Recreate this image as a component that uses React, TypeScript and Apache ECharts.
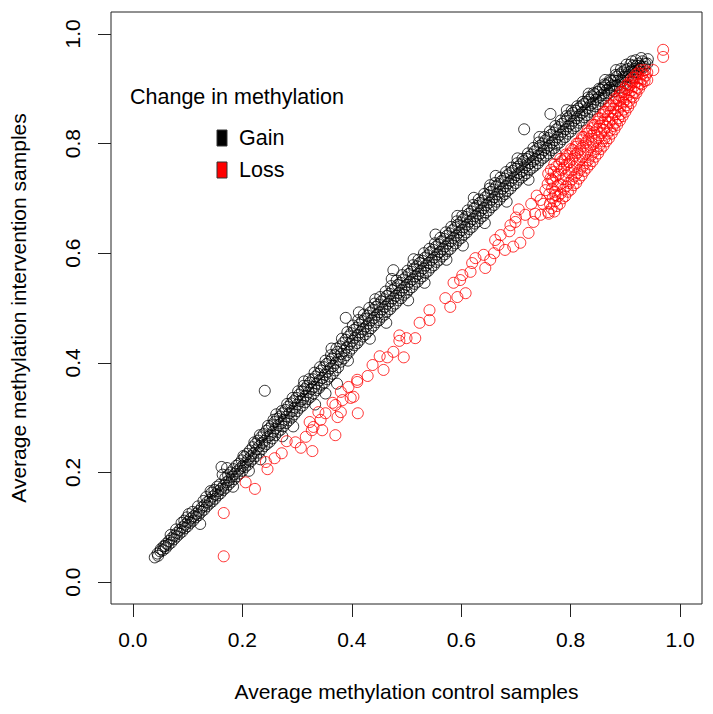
import React, { useEffect, useRef } from "react";
import * as echarts from "echarts";

const xTicks = [0, 0.2, 0.4, 0.6, 0.8, 1.0];
const yTicks = [0, 0.2, 0.4, 0.6, 0.8, 1.0];
const xTitle = "Average methylation control samples";
const yTitle = "Average methylation intervention samples";
const legendTitle = "Change in methylation";
const seriesNames = ["Gain", "Loss"];
const seriesColors = ["#000000", "#ff0000"];

const gainPoints: number[][] = [
  [0.040,0.045],[0.045,0.052],[0.046,0.048],[0.050,0.056],[0.051,0.060],[0.055,0.058],[0.056,0.065],[0.060,0.062],[0.061,0.070],[0.059,0.066],
  [0.065,0.068],[0.066,0.075],[0.070,0.072],[0.071,0.080],[0.069,0.086],[0.075,0.078],[0.076,0.085],[0.080,0.083],[0.081,0.090],[0.079,0.096],
  [0.085,0.088],[0.086,0.095],[0.090,0.092],[0.091,0.100],[0.089,0.108],[0.095,0.098],[0.096,0.105],[0.094,0.112],[0.100,0.102],[0.101,0.110],
  [0.099,0.118],[0.102,0.124],[0.105,0.108],[0.106,0.116],[0.110,0.112],[0.111,0.120],[0.109,0.128],[0.115,0.118],[0.116,0.125],[0.120,0.122],
  [0.121,0.130],[0.119,0.138],[0.125,0.128],[0.126,0.136],[0.130,0.132],[0.131,0.140],[0.129,0.148],[0.135,0.138],[0.136,0.146],[0.134,0.155],
  [0.140,0.143],[0.141,0.150],[0.145,0.147],[0.146,0.156],[0.144,0.163],[0.150,0.152],[0.151,0.160],[0.149,0.168],[0.155,0.158],[0.156,0.166],
  [0.154,0.174],[0.160,0.162],[0.161,0.170],[0.159,0.178],[0.162,0.210],[0.165,0.168],[0.166,0.176],[0.164,0.196],[0.170,0.172],[0.171,0.182],
  [0.169,0.190],[0.172,0.208],[0.175,0.178],[0.176,0.186],[0.174,0.195],[0.180,0.183],[0.181,0.192],[0.179,0.200],[0.185,0.188],[0.186,0.197],
  [0.184,0.206],[0.190,0.193],[0.191,0.202],[0.189,0.212],[0.195,0.198],[0.196,0.207],[0.194,0.216],[0.200,0.203],[0.201,0.212],[0.199,0.222],
  [0.202,0.230],[0.205,0.210],[0.206,0.218],[0.204,0.228],[0.210,0.214],[0.211,0.224],[0.209,0.234],[0.215,0.220],[0.216,0.230],[0.214,0.240],
  [0.220,0.225],[0.221,0.235],[0.219,0.246],[0.222,0.255],[0.225,0.230],[0.226,0.242],[0.224,0.252],[0.230,0.236],[0.231,0.248],[0.229,0.258],
  [0.232,0.268],[0.235,0.242],[0.236,0.254],[0.234,0.264],[0.240,0.248],[0.241,0.258],[0.239,0.270],[0.241,0.349],[0.245,0.252],[0.246,0.264],
  [0.244,0.276],[0.247,0.285],[0.250,0.256],[0.251,0.268],[0.249,0.280],[0.255,0.262],[0.256,0.274],[0.254,0.286],[0.257,0.296],[0.260,0.268],
  [0.261,0.280],[0.259,0.292],[0.265,0.274],[0.266,0.286],[0.264,0.298],[0.270,0.278],[0.271,0.290],[0.269,0.302],[0.272,0.312],[0.275,0.284],
  [0.276,0.296],[0.274,0.308],[0.280,0.290],[0.281,0.302],[0.279,0.314],[0.282,0.325],[0.285,0.295],[0.286,0.308],[0.284,0.320],[0.290,0.300],
  [0.291,0.312],[0.289,0.326],[0.292,0.336],[0.295,0.306],[0.296,0.318],[0.294,0.330],[0.300,0.312],[0.301,0.324],[0.299,0.336],[0.302,0.348],
  [0.305,0.318],[0.306,0.330],[0.304,0.342],[0.310,0.322],[0.311,0.334],[0.309,0.348],[0.312,0.358],[0.315,0.328],[0.316,0.340],[0.314,0.352],
  [0.320,0.334],[0.321,0.346],[0.319,0.358],[0.322,0.370],[0.325,0.338],[0.326,0.352],[0.324,0.364],[0.330,0.344],[0.331,0.356],[0.329,0.370],
  [0.332,0.382],[0.335,0.350],[0.336,0.362],[0.334,0.375],[0.340,0.354],[0.341,0.368],[0.339,0.380],[0.342,0.392],[0.345,0.360],[0.346,0.372],
  [0.344,0.386],[0.350,0.364],[0.351,0.378],[0.349,0.392],[0.352,0.404],[0.355,0.370],[0.356,0.384],[0.354,0.398],[0.360,0.375],[0.361,0.390],
  [0.359,0.402],[0.362,0.414],[0.365,0.380],[0.366,0.394],[0.364,0.408],[0.370,0.386],[0.371,0.400],[0.369,0.414],[0.372,0.426],[0.375,0.392],
  [0.376,0.406],[0.374,0.420],[0.380,0.402],[0.381,0.416],[0.379,0.430],[0.382,0.444],[0.389,0.482],[0.385,0.408],[0.386,0.422],[0.384,0.436],
  [0.390,0.414],[0.391,0.428],[0.389,0.442],[0.392,0.456],[0.395,0.420],[0.396,0.434],[0.394,0.448],[0.400,0.426],[0.401,0.440],[0.399,0.454],
  [0.402,0.468],[0.405,0.432],[0.406,0.446],[0.404,0.460],[0.410,0.436],[0.411,0.450],[0.409,0.464],[0.412,0.478],[0.415,0.442],[0.416,0.456],
  [0.414,0.470],[0.420,0.448],[0.421,0.462],[0.419,0.476],[0.422,0.488],[0.425,0.452],[0.426,0.466],[0.424,0.480],[0.430,0.458],[0.431,0.472],
  [0.429,0.486],[0.432,0.500],[0.435,0.463],[0.436,0.478],[0.434,0.492],[0.440,0.468],[0.441,0.482],[0.439,0.496],[0.442,0.508],[0.445,0.474],
  [0.446,0.488],[0.444,0.502],[0.450,0.478],[0.451,0.492],[0.449,0.506],[0.452,0.520],[0.455,0.484],[0.456,0.498],[0.454,0.512],[0.460,0.488],
  [0.461,0.502],[0.459,0.516],[0.462,0.530],[0.465,0.494],[0.466,0.508],[0.464,0.522],[0.470,0.498],[0.471,0.512],[0.469,0.526],[0.472,0.540],
  [0.475,0.504],[0.476,0.518],[0.474,0.532],[0.480,0.508],[0.481,0.522],[0.479,0.536],[0.482,0.550],[0.476,0.569],[0.485,0.514],[0.486,0.528],
  [0.484,0.542],[0.490,0.518],[0.491,0.532],[0.489,0.546],[0.492,0.560],[0.495,0.524],[0.496,0.538],[0.494,0.552],[0.500,0.528],[0.501,0.542],
  [0.499,0.556],[0.502,0.568],[0.505,0.534],[0.506,0.548],[0.504,0.562],[0.510,0.538],[0.511,0.552],[0.509,0.566],[0.512,0.578],[0.515,0.544],
  [0.516,0.558],[0.514,0.572],[0.520,0.548],[0.521,0.562],[0.519,0.576],[0.522,0.588],[0.525,0.554],[0.526,0.568],[0.524,0.582],[0.530,0.558],
  [0.531,0.572],[0.529,0.586],[0.532,0.600],[0.535,0.564],[0.536,0.578],[0.534,0.592],[0.540,0.568],[0.541,0.582],[0.539,0.596],[0.542,0.608],
  [0.545,0.574],[0.546,0.588],[0.544,0.602],[0.550,0.578],[0.551,0.592],[0.549,0.606],[0.552,0.618],[0.555,0.584],[0.556,0.598],[0.554,0.612],
  [0.560,0.588],[0.561,0.602],[0.559,0.616],[0.562,0.628],[0.565,0.594],[0.566,0.608],[0.564,0.622],[0.570,0.598],[0.571,0.612],[0.569,0.626],
  [0.572,0.638],[0.575,0.604],[0.576,0.618],[0.574,0.632],[0.580,0.608],[0.581,0.622],[0.579,0.636],[0.582,0.648],[0.585,0.614],[0.586,0.628],
  [0.584,0.642],[0.590,0.618],[0.591,0.632],[0.589,0.646],[0.592,0.658],[0.595,0.624],[0.596,0.638],[0.594,0.652],[0.600,0.628],[0.601,0.642],
  [0.599,0.656],[0.602,0.668],[0.605,0.634],[0.606,0.648],[0.604,0.662],[0.610,0.638],[0.611,0.652],[0.609,0.666],[0.612,0.678],[0.615,0.644],
  [0.616,0.658],[0.614,0.672],[0.620,0.648],[0.621,0.662],[0.619,0.676],[0.622,0.688],[0.625,0.654],[0.626,0.668],[0.624,0.682],[0.630,0.658],
  [0.631,0.672],[0.629,0.686],[0.632,0.698],[0.635,0.664],[0.636,0.678],[0.634,0.692],[0.640,0.668],[0.641,0.682],[0.639,0.696],[0.642,0.708],
  [0.645,0.674],[0.646,0.688],[0.644,0.702],[0.650,0.678],[0.651,0.692],[0.649,0.706],[0.652,0.718],[0.653,0.724],[0.655,0.684],[0.656,0.698],
  [0.654,0.712],[0.660,0.688],[0.661,0.702],[0.659,0.716],[0.662,0.728],[0.665,0.694],[0.666,0.708],[0.664,0.722],[0.670,0.698],[0.671,0.712],
  [0.669,0.726],[0.672,0.738],[0.675,0.704],[0.676,0.718],[0.674,0.732],[0.680,0.708],[0.681,0.722],[0.679,0.736],[0.682,0.748],[0.685,0.714],
  [0.686,0.728],[0.684,0.742],[0.690,0.718],[0.691,0.732],[0.689,0.746],[0.692,0.756],[0.695,0.724],[0.696,0.738],[0.694,0.750],[0.700,0.728],
  [0.701,0.742],[0.699,0.754],[0.702,0.764],[0.705,0.734],[0.706,0.746],[0.704,0.758],[0.710,0.738],[0.711,0.750],[0.709,0.762],[0.712,0.772],
  [0.715,0.742],[0.716,0.756],[0.714,0.768],[0.715,0.826],[0.720,0.746],[0.721,0.760],[0.719,0.772],[0.722,0.782],[0.725,0.752],[0.726,0.764],
  [0.724,0.776],[0.730,0.756],[0.731,0.768],[0.729,0.780],[0.732,0.792],[0.735,0.760],[0.736,0.772],[0.734,0.786],[0.740,0.764],[0.741,0.778],
  [0.739,0.790],[0.742,0.802],[0.745,0.770],[0.746,0.782],[0.744,0.796],[0.750,0.774],[0.751,0.788],[0.749,0.800],[0.752,0.812],[0.755,0.778],
  [0.756,0.792],[0.754,0.806],[0.760,0.782],[0.761,0.796],[0.759,0.810],[0.762,0.822],[0.763,0.854],[0.765,0.788],[0.766,0.802],[0.764,0.816],
  [0.770,0.792],[0.771,0.806],[0.769,0.820],[0.772,0.832],[0.775,0.798],[0.776,0.812],[0.774,0.826],[0.780,0.802],[0.781,0.816],[0.779,0.830],
  [0.782,0.842],[0.785,0.808],[0.786,0.822],[0.784,0.836],[0.790,0.812],[0.791,0.826],[0.789,0.840],[0.792,0.850],[0.795,0.818],[0.796,0.832],
  [0.794,0.846],[0.800,0.822],[0.801,0.836],[0.799,0.850],[0.802,0.860],[0.805,0.828],[0.806,0.842],[0.804,0.856],[0.810,0.832],[0.811,0.846],
  [0.809,0.860],[0.812,0.868],[0.815,0.838],[0.816,0.852],[0.814,0.864],[0.820,0.842],[0.821,0.856],[0.819,0.868],[0.822,0.876],[0.825,0.848],
  [0.826,0.860],[0.824,0.872],[0.830,0.852],[0.831,0.864],[0.829,0.876],[0.832,0.884],[0.835,0.858],[0.836,0.870],[0.834,0.880],[0.840,0.862],
  [0.841,0.874],[0.839,0.886],[0.842,0.892],[0.845,0.868],[0.846,0.880],[0.844,0.890],[0.850,0.872],[0.851,0.884],[0.849,0.894],[0.852,0.900],
  [0.855,0.878],[0.856,0.888],[0.854,0.898],[0.860,0.882],[0.861,0.892],[0.859,0.902],[0.862,0.908],[0.865,0.888],[0.866,0.898],[0.864,0.906],
  [0.870,0.892],[0.871,0.902],[0.869,0.910],[0.872,0.916],[0.875,0.898],[0.876,0.906],[0.874,0.914],[0.880,0.895],[0.881,0.905],[0.879,0.915],
  [0.882,0.925],[0.885,0.906],[0.886,0.914],[0.884,0.922],[0.890,0.902],[0.891,0.914],[0.889,0.926],[0.892,0.936],[0.895,0.914],[0.896,0.922],
  [0.894,0.930],[0.900,0.910],[0.901,0.922],[0.899,0.934],[0.902,0.944],[0.905,0.922],[0.906,0.930],[0.904,0.936],[0.910,0.920],[0.911,0.932],
  [0.909,0.944],[0.912,0.950],[0.915,0.930],[0.916,0.936],[0.914,0.942],[0.920,0.930],[0.921,0.942],[0.919,0.952],[0.925,0.936],[0.926,0.942],
  [0.924,0.946],[0.930,0.940],[0.931,0.950],[0.929,0.956],[0.935,0.940],[0.936,0.946],[0.940,0.946],[0.941,0.954],
  [0.123,0.106],[0.142,0.166],[0.183,0.174],[0.212,0.203],[0.233,0.224],[0.262,0.306],[0.273,0.266],[0.293,0.284],[0.313,0.366],[0.333,0.324],
  [0.352,0.344],[0.363,0.426],[0.373,0.362],[0.393,0.404],[0.413,0.492],[0.433,0.444],[0.443,0.516],[0.463,0.473],[0.473,0.553],[0.503,0.514],
  [0.513,0.589],[0.533,0.546],[0.553,0.634],[0.573,0.588],[0.593,0.668],[0.603,0.614],[0.623,0.701],[0.643,0.655],[0.663,0.741],[0.683,0.694],
  [0.703,0.773],[0.723,0.734],[0.743,0.812],[0.773,0.781],[0.793,0.861],[0.833,0.891],[0.863,0.916],[0.883,0.934]
];

const lossPoints: number[][] = [
  [0.166,0.047],[0.166,0.126],[0.206,0.182],[0.223,0.170],[0.243,0.219],[0.246,0.206],[0.259,0.226],[0.272,0.235],[0.281,0.257],[0.297,0.255],
  [0.307,0.245],[0.316,0.265],[0.328,0.239],[0.327,0.277],[0.330,0.283],[0.323,0.292],[0.346,0.277],[0.339,0.310],[0.352,0.308],[0.343,0.296],
  [0.370,0.268],[0.374,0.301],[0.380,0.310],[0.365,0.327],[0.370,0.323],[0.383,0.332],[0.398,0.336],[0.411,0.308],[0.394,0.356],[0.410,0.365],
  [0.380,0.347],[0.403,0.338],[0.410,0.369],[0.429,0.376],[0.438,0.396],[0.451,0.412],[0.458,0.387],[0.465,0.410],[0.476,0.420],[0.495,0.410],
  [0.487,0.440],[0.487,0.450],[0.500,0.445],[0.516,0.445],[0.524,0.473],[0.542,0.478],[0.542,0.496],[0.571,0.518],[0.580,0.502],[0.593,0.520],
  [0.608,0.527],[0.586,0.546],[0.598,0.551],[0.602,0.560],[0.617,0.566],[0.620,0.582],[0.626,0.591],[0.644,0.573],[0.641,0.597],[0.680,0.606],
  [0.653,0.588],[0.660,0.600],[0.668,0.615],[0.662,0.624],[0.672,0.633],[0.688,0.640],[0.695,0.612],[0.690,0.651],[0.699,0.657],[0.700,0.665],
  [0.705,0.680],[0.708,0.619],[0.717,0.670],[0.723,0.637],[0.728,0.690],[0.732,0.657],[0.735,0.672],[0.738,0.705],[0.745,0.670],[0.745,0.697],
  [0.750,0.690],[0.754,0.715],[0.759,0.675],[0.766,0.734],[0.772,0.706],
  [0.760,0.672],[0.762,0.690],[0.761,0.708],[0.758,0.726],[0.759,0.745],[0.765,0.682],[0.767,0.700],[0.766,0.718],[0.763,0.736],[0.764,0.752],
  [0.770,0.676],[0.772,0.695],[0.771,0.712],[0.768,0.731],[0.769,0.748],[0.770,0.762],[0.775,0.686],[0.777,0.704],[0.776,0.723],[0.773,0.740],
  [0.774,0.758],[0.780,0.690],[0.782,0.709],[0.781,0.726],[0.778,0.744],[0.779,0.762],[0.781,0.772],[0.785,0.700],[0.787,0.716],[0.786,0.735],
  [0.783,0.752],[0.784,0.768],[0.790,0.704],[0.792,0.722],[0.791,0.741],[0.788,0.756],[0.789,0.772],[0.791,0.780],[0.795,0.712],[0.797,0.728],
  [0.796,0.747],[0.793,0.762],[0.794,0.778],[0.800,0.716],[0.802,0.734],[0.801,0.751],[0.798,0.766],[0.799,0.782],[0.801,0.790],[0.805,0.724],
  [0.807,0.740],[0.806,0.757],[0.803,0.772],[0.804,0.788],[0.810,0.728],[0.812,0.746],[0.811,0.763],[0.808,0.778],[0.809,0.794],[0.811,0.800],
  [0.815,0.736],[0.817,0.752],[0.816,0.769],[0.813,0.784],[0.814,0.800],[0.820,0.742],[0.822,0.758],[0.821,0.775],[0.818,0.790],[0.819,0.806],
  [0.821,0.812],[0.825,0.750],[0.827,0.764],[0.826,0.781],[0.823,0.796],[0.824,0.812],[0.830,0.756],[0.832,0.770],[0.831,0.787],[0.828,0.802],
  [0.829,0.818],[0.831,0.824],[0.835,0.762],[0.837,0.778],[0.836,0.793],[0.833,0.808],[0.834,0.822],[0.840,0.768],[0.842,0.784],[0.841,0.799],
  [0.838,0.814],[0.839,0.828],[0.841,0.834],[0.845,0.776],[0.847,0.790],[0.846,0.805],[0.843,0.820],[0.844,0.834],[0.850,0.782],[0.852,0.796],
  [0.851,0.811],[0.848,0.826],[0.849,0.840],[0.851,0.846],[0.855,0.790],[0.857,0.804],[0.856,0.819],[0.853,0.832],[0.854,0.846],[0.860,0.796],
  [0.862,0.810],[0.861,0.825],[0.858,0.838],[0.859,0.852],[0.861,0.858],[0.865,0.804],[0.867,0.818],[0.866,0.831],[0.863,0.844],[0.864,0.858],
  [0.870,0.810],[0.872,0.824],[0.871,0.839],[0.868,0.850],[0.869,0.864],[0.871,0.870],[0.875,0.818],[0.877,0.832],[0.876,0.845],[0.873,0.858],
  [0.874,0.870],[0.880,0.826],[0.882,0.838],[0.881,0.853],[0.878,0.864],[0.879,0.876],[0.881,0.882],[0.885,0.834],[0.887,0.846],[0.886,0.859],
  [0.883,0.870],[0.884,0.882],[0.890,0.842],[0.892,0.854],[0.891,0.867],[0.888,0.878],[0.889,0.888],[0.891,0.894],[0.895,0.850],[0.897,0.862],
  [0.896,0.875],[0.893,0.884],[0.894,0.894],[0.900,0.858],[0.902,0.870],[0.901,0.881],[0.898,0.890],[0.899,0.900],[0.901,0.906],[0.905,0.866],
  [0.907,0.878],[0.906,0.889],[0.903,0.898],[0.904,0.908],[0.910,0.874],[0.912,0.886],[0.911,0.897],[0.908,0.906],[0.909,0.914],[0.915,0.884],
  [0.917,0.894],[0.916,0.905],[0.913,0.912],[0.914,0.920],[0.920,0.892],[0.922,0.902],[0.921,0.913],[0.918,0.920],[0.919,0.926],[0.925,0.900],
  [0.927,0.910],[0.926,0.919],[0.923,0.928],[0.930,0.908],[0.932,0.918],[0.931,0.927],[0.928,0.934],[0.935,0.914],[0.937,0.924],[0.936,0.934],
  [0.940,0.916],[0.940,0.930],[0.951,0.934],[0.969,0.971],[0.969,0.958]
];

const FONT = '"Liberation Sans", Arial, Helvetica, sans-serif';

export default function App() {
  const ref = useRef<HTMLDivElement>(null);
  useEffect(() => {
    if (!ref.current) return;
    const chart = echarts.init(ref.current, undefined, { renderer: "svg" });
    const left = 110, top = 12, size = 592;
    const axisCommon = {
      type: "value",
      min: -0.04,
      max: 1.04,
      splitLine: { show: false },
      axisLine: { show: false, onZero: false },
      axisTick: {
        show: true,
        inside: false,
        length: 13,
        lineStyle: { color: "#222", width: 1 },
      },
      nameLocation: "middle",
      nameTextStyle: { fontFamily: FONT, fontSize: 21, color: "#000" },
    };
    chart.setOption({
      animation: false,
      backgroundColor: "#ffffff",
      grid: {
        left,
        top,
        width: size,
        height: size,
        show: true,
        borderColor: "#222",
        borderWidth: 1,
        backgroundColor: "transparent",
      },
      xAxis: {
        ...axisCommon,
        name: xTitle,
        nameGap: 77,
        axisTick: { ...axisCommon.axisTick, customValues: xTicks },
        axisLabel: {
          customValues: xTicks,
          formatter: (v: number) => v.toFixed(1),
          fontFamily: FONT,
          fontSize: 21,
          color: "#000",
          margin: 25,
        },
      },
      yAxis: {
        ...axisCommon,
        name: yTitle,
        nameGap: 82,
        axisTick: { ...axisCommon.axisTick, customValues: yTicks },
        axisLabel: {
          customValues: yTicks,
          formatter: (v: number) => v.toFixed(1),
          fontFamily: FONT,
          fontSize: 21,
          color: "#000",
          rotate: 90,
          margin: 28,
        },
      },
      series: [
        {
          name: seriesNames[0],
          type: "scatter",
          data: gainPoints,
          symbol: "circle",
          symbolSize: 11,
          itemStyle: { color: "rgba(0,0,0,0)", borderColor: seriesColors[0], borderWidth: 1 },
          emphasis: { disabled: true },
        },
        {
          name: seriesNames[1],
          type: "scatter",
          data: lossPoints,
          symbol: "circle",
          symbolSize: 11,
          itemStyle: { color: "rgba(0,0,0,0)", borderColor: seriesColors[1], borderWidth: 1 },
          emphasis: { disabled: true },
        },
      ],
      graphic: [
        {
          type: "text",
          left: 130,
          top: 86,
          style: { text: legendTitle, font: `21.5px ${FONT}`, fill: "#000" },
        },
        {
          type: "rect",
          shape: { x: 217, y: 130, width: 10, height: 16 },
          style: { fill: seriesColors[0], stroke: "#333", lineWidth: 1 },
        },
        {
          type: "text",
          left: 239,
          top: 127,
          style: { text: seriesNames[0], font: `21.5px ${FONT}`, fill: "#000" },
        },
        {
          type: "rect",
          shape: { x: 217, y: 162, width: 10, height: 16 },
          style: { fill: seriesColors[1], stroke: "#333", lineWidth: 1 },
        },
        {
          type: "text",
          left: 239,
          top: 159,
          style: { text: seriesNames[1], font: `21.5px ${FONT}`, fill: "#000" },
        },
      ],
    });
    return () => chart.dispose();
  }, []);
  return (
    <div
      ref={ref}
      style={{ position: "fixed", left: 0, top: 0, width: 713, height: 714, background: "#fff" }}
    />
  );
}
